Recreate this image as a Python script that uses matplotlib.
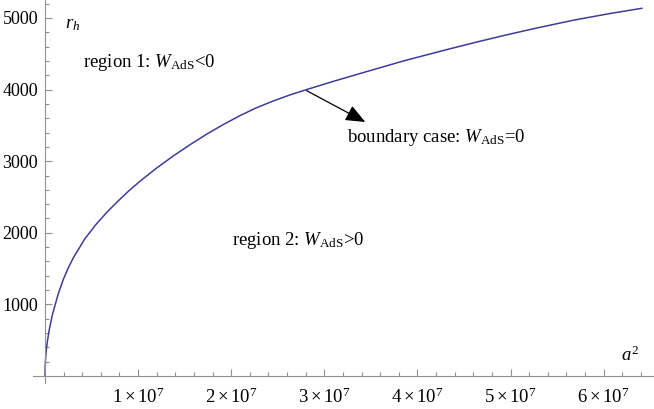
import matplotlib
matplotlib.use("Agg")
import matplotlib.pyplot as plt
from matplotlib.ticker import FixedLocator, FuncFormatter

# values (a^2 in units of 1e6)
a2_millions = [0, 0.02, 0.05, 0.1, 0.15, 0.25, 0.46, 0.82, 1.43, 1.97, 2.5, 3.04,
               4.3, 5.5, 6.6, 7.7, 9.0, 10.2, 12.0, 13.8, 15.6, 17.4, 19.2, 21.0,
               22.7, 24.5, 26.3, 28.1, 31.0, 34.2, 38.5, 43.5, 46.5, 49.6, 53.0,
               56.8, 60.5, 64.1]
r_h = [0, 136, 215, 304, 372, 480, 650, 870, 1150, 1350, 1510, 1650,
       1920, 2120, 2280, 2425, 2585, 2720, 2905, 3075, 3232, 3380, 3515, 3640,
       3745, 3840, 3925, 4000, 4116, 4238, 4400, 4570, 4668, 4765, 4865,
       4970, 5058, 5135]

x_ticks = [1, 2, 3, 4, 5, 6]          # x 1e7
y_ticks = [1000, 2000, 3000, 4000, 5000]
boundary_pt = (2.81e7, 3985)
arrow_tip = (3.44e7, 3547)

plt.rcParams['font.family'] = ['Liberation Serif', 'DejaVu Serif']
plt.rcParams['mathtext.fontset'] = 'custom'
plt.rcParams['mathtext.rm'] = 'Liberation Serif'
plt.rcParams['mathtext.it'] = 'Liberation Serif:italic'
plt.rcParams['mathtext.bf'] = 'Liberation Serif:bold'

fig = plt.figure(figsize=(6.54, 4.09), dpi=100)
ax = fig.add_axes([0, 0, 1, 1])

a2 = [v * 1e6 for v in a2_millions]
ax.plot(a2, r_h, color='#3d3d99', lw=1.1)

ax.set_xlim(-0.4834e7, 6.541e7)
ax.set_ylim(-461, 5251)

# axes through the origin, Mathematica style
for s in ['top', 'right']:
    ax.spines[s].set_visible(False)
ax.spines['left'].set_position(('data', 0))
ax.spines['bottom'].set_position(('data', 0))
ax.spines['left'].set_bounds(-98, 5251)
ax.spines['bottom'].set_bounds(-0.129e7, 6.541e7)
for s in ['left', 'bottom']:
    ax.spines[s].set_color('#909090')
    ax.spines[s].set_linewidth(0.8)

ax.xaxis.set_major_locator(FixedLocator([t * 1e7 for t in x_ticks]))
ax.xaxis.set_minor_locator(FixedLocator([i * 2e6 for i in range(0, 33)]))
ax.xaxis.set_major_formatter(FuncFormatter(lambda v, p: r'$%d\times10^{7}$' % round(v / 1e7)))
ax.yaxis.set_major_locator(FixedLocator(y_ticks))
ax.yaxis.set_minor_locator(FixedLocator([i * 200 for i in range(1, 27)]))

ax.tick_params(which='both', direction='in', color='#909090', width=0.8)
ax.tick_params(axis='y', labelsize=13, pad=5)
ax.tick_params(axis='x', labelsize=13.5, pad=8.5)
ax.tick_params(which='major', length=5)
ax.tick_params(which='minor', length=3)

fs = 13.5
ax.text(0.22e7, 4902, r'$r_h$', fontsize=fs, ha='left', va='center')
ax.text(6.28e7, 293, r'$a^2$', fontsize=fs, ha='center', va='center')

ax.text(0.408e7, 4372, r'region 1: $W_{\mathrm{AdS}}$<0', fontsize=fs, va='center')
ax.text(2.01e7, 1899, r'region 2: $W_{\mathrm{AdS}}$>0', fontsize=fs, va='center')
ax.text(3.24e7, 3324, r'boundary case: $W_{\mathrm{AdS}}$=0', fontsize=fs, va='center')

ax.annotate('', xy=arrow_tip, xytext=boundary_pt,
            arrowprops=dict(arrowstyle='-|>,head_length=0.6,head_width=0.25',
                            mutation_scale=20, color='black', lw=0.9,
                            shrinkA=0, shrinkB=0))

fig.savefig('out.png', dpi=100)
